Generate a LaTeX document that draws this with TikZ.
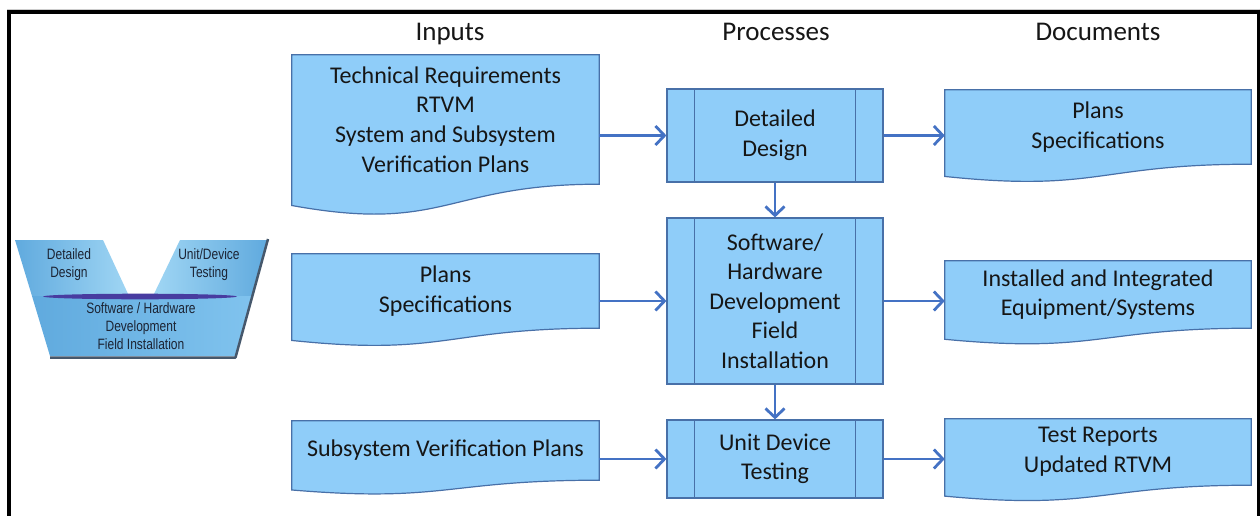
\documentclass[tikz,border=0pt]{standalone}
\usepackage{fontspec}
\setmainfont{Carlito}
\newfontfamily\iconfont[FakeStretch=0.8]{Liberation Sans}
\usetikzlibrary{arrows.meta,calc,backgrounds}

\definecolor{boxfill}{RGB}{143,205,249}
\definecolor{boxline}{RGB}{72,112,168}
\definecolor{arrowcol}{RGB}{68,114,196}
\definecolor{txt}{RGB}{22,22,22}
\definecolor{vdark}{RGB}{96,170,222}
\definecolor{vmid}{RGB}{128,195,238}
\definecolor{vlight}{RGB}{160,214,244}
\definecolor{vshadow}{RGB}{70,88,108}
\definecolor{vband}{RGB}{72,60,160}
\definecolor{vtext}{RGB}{28,36,52}

% document shape: wavy bottom hanging below the text area of node #1
\newcommand\docshape[1]{%
  \draw[boxline, fill=boxfill, line width=1.2pt]
    let \p1=(#1.north west), \p2=(#1.south east), \n1={\y1-\y2} in
    (\x1,\y1) -- (\x2,\y1) -- (\x2,\y2)
    .. controls ({(\x1+\x2)/2},\y2) and ({(\x1+\x2)/2},{\y2-0.381*\n1})
    .. (\x1,{\y2-0.1646*\n1}) -- cycle;}

\begin{document}
\begin{tikzpicture}[x=1pt,y=-1pt,
  hdr/.style={font=\fontsize{27}{32}\selectfont, text=txt, inner sep=0pt},
  body/.style={font=\fontsize{24}{29.6}\selectfont, text=txt, align=center, inner sep=0pt},
  docbox/.style 2 args={body, minimum width=#1pt, minimum height=#2pt},
  proc/.style 2 args={body, draw=boxline, fill=boxfill, line width=1.2pt,
    minimum width=#1pt, minimum height=#2pt,
    path picture={\draw[boxline, line width=1.2pt]
      ([xshift=27.5pt]path picture bounding box.north west) -- ([xshift=27.5pt]path picture bounding box.south west)
      ([xshift=-27.5pt]path picture bounding box.north east) -- ([xshift=-27.5pt]path picture bounding box.south east);}},
  arr/.style={draw=arrowcol, line width=2.8pt, -{Straight Barb[length=9pt,width=19pt]}},
  icontxt/.style={font=\iconfont\fontsize{15}{18}\selectfont, text=vtext, align=center, inner sep=0pt}
]
\useasboundingbox (0,0) rectangle (1260,516);
\begin{scope}[on background layer]
  \fill[white] (0,0) rectangle (1260,516);
\end{scope}

% frame
\draw[gray!40, line width=1pt] (7,9.3) -- (1260,9.3);
\draw[black, line width=4pt] (9,517) -- (9,12) -- (1258.5,12);
\draw[black, line width=3pt] (1258.5,10) -- (1258.5,517);

% column headings
\node[hdr, anchor=base] (hin)   at (450,41) {Inputs};
\node[hdr, anchor=base] (hproc) at (776,41) {Processes};
\node[hdr, anchor=base] (hdoc)  at (1098,41) {Documents};

% inputs
\node[docbox={307}{129}] (in1) at (445.5,119.5) {Technical Requirements\\RTVM\\System and Subsystem\\Verification Plans};
\node[docbox={307}{74}]  (in2) at (445.5,291) {Plans\\Specifications};
\node[docbox={307}{59}]  (in3) at (445.5,450.5) {Subsystem Verification Plans};

% processes
\node[proc={216}{93}]  (p1) at (775,135.5) {Detailed\\Design};
\node[proc={216}{166}] (p2) at (775,301) {Software/\\Hardware\\Development\\Field\\Installation};
\node[proc={216}{78}]  (p3) at (775,459) {Unit Device\\Testing};

% documents
\node[docbox={306}{74}] (d1) at (1098,127) {Plans\\Specifications};
\node[docbox={306}{67}] (d2) at (1098,294.5) {Installed and Integrated\\Equipment/Systems};
\node[docbox={306}{66}] (d3) at (1098,452) {Test Reports\\Updated RTVM};

\begin{scope}[on background layer]
  \foreach \nm in {in1,in2,in3,d1,d2,d3}{\docshape{\nm}}
\end{scope}

% connectors
\draw[arr] (p1.west -| in1.east) -- (p1.west);
\draw[arr] (p2.west -| in2.east) -- (p2.west);
\draw[arr] (p3.west -| in3.east) -- (p3.west);
\draw[arr] (p1.east) -- (p1.east -| d1.west);
\draw[arr] (p2.east) -- (p2.east -| d2.west);
\draw[arr] (p3.east) -- (p3.east -| d3.west);
\draw[arr] (p1.south) -- (p2.north);
\draw[arr] (p2.south) -- (p3.north);

% V-model icon
\shade[left color=vdark, right color=vlight] (15,240) -- (103,240) -- (129,296) -- (32,296) -- cycle;
\shade[left color=vlight, right color=vdark] (180,240) -- (267,240) -- (251.5,296) -- (153,296) -- cycle;
\shade[left color=vdark, middle color=vlight, right color=vmid] (32,296) -- (251.5,296) -- (235,356) -- (50,356) -- cycle;
\draw[vshadow, line width=2.5pt, line join=round] (50,357.5) -- (235.5,357.5) -- (268,239);
\fill[vband] (140,296.5) ellipse [x radius=97, y radius=2.8];
\node[icontxt] (vdd)  at (69,265) {Detailed\\Design};
\node[icontxt] (vudt) at (209,265) {Unit/Device\\Testing};
\node[icontxt] (vsw)  at (141,326) {Software / Hardware\\Development\\Field Installation};
\end{tikzpicture}
\end{document}
